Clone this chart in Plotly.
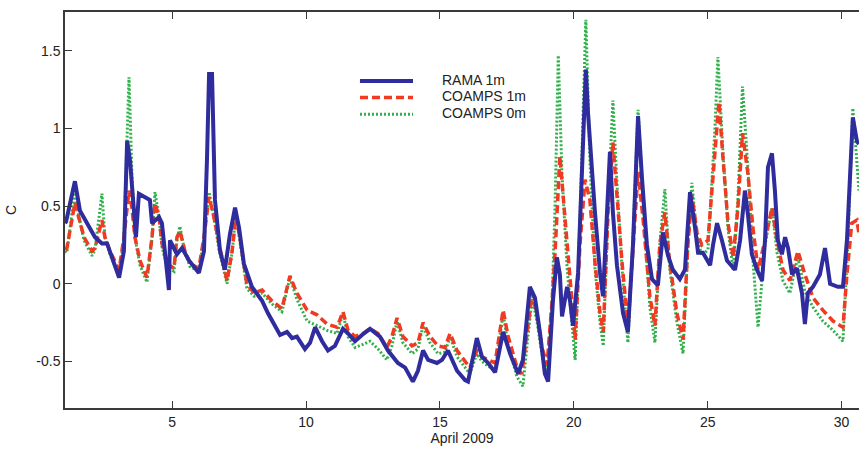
import plotly.graph_objects as go

# ---------------- data ----------------
rama_days = [1.00,1.04,1.37,1.56,2.12,2.38,2.57,2.87,3.02,3.20,
             3.32,3.43,3.58,3.65,3.76,3.95,4.17,4.25,4.51,4.62,
             4.73,4.88,4.92,5.18,5.37,5.63,6.00,6.19,6.30,6.38,
             6.49,6.56,6.60,6.79,6.97,7.16,7.35,7.50,7.68,7.98,
             8.36,8.58,9.03,9.29,9.48,9.66,9.96,10.15,10.34,10.60,
             10.82,11.08,11.38,11.57,11.83,12.09,12.39,12.76,13.06,13.43,
             13.70,13.99,14.18,14.37,14.56,14.89,15.08,15.30,15.64,15.94,
             16.05,16.38,16.57,16.80,17.06,17.36,17.62,17.92,18.10,18.36,
             18.55,18.74,18.92,19.04,19.22,19.37,19.48,19.56,19.75,19.86,
             19.97,20.16,20.31,20.45,20.53,20.68,20.79,20.98,21.09,21.24,
             21.35,21.46,21.61,21.84,22.02,22.21,22.40,22.55,22.73,22.92,
             23.14,23.33,23.52,23.70,23.96,24.15,24.34,24.52,24.64,24.82,
             25.09,25.20,25.35,25.53,25.72,26.02,26.21,26.39,26.50,26.65,
             26.84,27.03,27.14,27.25,27.40,27.51,27.62,27.77,27.89,28.00,
             28.15,28.33,28.52,28.63,28.74,28.93,29.19,29.38,29.57,29.86,
             30.05,30.20,30.31,30.42,30.57,30.65]
rama_vals = [0.39,0.40,0.66,0.47,0.30,0.26,0.26,0.10,0.04,0.21,
             0.92,0.79,0.43,0.30,0.58,0.56,0.54,0.39,0.43,0.39,
             0.21,-0.04,0.28,0.19,0.23,0.15,0.07,0.21,0.79,1.35,
             1.35,0.79,0.54,0.21,0.09,0.32,0.49,0.36,0.13,-0.02,
             -0.11,-0.19,-0.33,-0.31,-0.35,-0.34,-0.42,-0.38,-0.28,-0.37,
             -0.43,-0.40,-0.29,-0.32,-0.37,-0.33,-0.29,-0.34,-0.43,-0.51,
             -0.54,-0.63,-0.56,-0.43,-0.49,-0.51,-0.49,-0.43,-0.56,-0.62,
             -0.63,-0.35,-0.47,-0.51,-0.57,-0.31,-0.45,-0.58,-0.49,-0.02,
             -0.09,-0.32,-0.58,-0.63,-0.11,0.17,0.06,-0.21,-0.02,-0.11,
             -0.27,0.07,0.67,1.38,1.10,0.67,0.46,0.07,-0.08,0.46,
             0.85,0.46,0.12,-0.19,-0.31,0.25,1.08,0.67,0.25,0.03,
             -0.01,0.33,0.18,0.09,0.03,0.09,0.59,0.37,0.20,0.20,
             0.12,0.25,0.39,0.28,0.15,0.09,0.28,0.60,0.45,0.19,
             0.09,0.02,0.28,0.75,0.84,0.60,0.28,0.19,0.30,0.23,
             0.06,0.10,-0.06,-0.26,-0.06,-0.02,0.06,0.23,0.00,-0.02,
             -0.02,0.28,0.71,1.07,0.92,0.90]

c1_days = [1.00,1.07,1.37,1.52,1.71,2.01,2.12,2.38,2.49,2.68,3.02,
           3.20,3.39,3.50,3.61,3.80,4.06,4.25,4.36,4.51,4.62,
           4.81,5.07,5.18,5.29,5.48,5.67,6.00,6.19,6.38,6.56,
           6.75,7.05,7.24,7.38,7.53,7.79,8.06,8.36,8.73,9.10,
           9.40,9.66,10.04,10.41,10.79,11.16,11.38,11.57,11.83,12.13,
           12.39,12.69,13.02,13.21,13.40,13.62,13.96,14.18,14.37,14.63,
           14.93,15.19,15.38,15.64,15.94,16.12,16.38,16.57,16.80,17.06,
           17.36,17.55,17.88,18.06,18.25,18.45,18.63,18.81,19.00,19.19,
           19.30,19.40,19.48,19.75,20.05,20.23,20.42,20.60,20.79,20.98,
           21.10,21.28,21.46,21.61,21.80,22.02,22.21,22.40,22.59,22.84,
           23.03,23.21,23.40,23.58,23.85,24.08,24.26,24.41,24.60,24.78,
           25.01,25.27,25.42,25.57,25.76,25.95,26.13,26.30,26.50,26.69,
           26.88,27.14,27.40,27.59,27.81,28.07,28.26,28.37,28.63,28.93,
           29.30,29.68,30.05,30.20,30.38,30.57,30.65]
c1_vals = [0.22,0.23,0.52,0.43,0.30,0.21,0.23,0.41,0.30,0.21,0.09,
           0.30,0.60,0.49,0.30,0.15,0.04,0.30,0.52,0.43,0.26,
           0.13,0.10,0.30,0.34,0.21,0.13,0.10,0.30,0.56,0.43,
           0.26,0.02,0.21,0.43,0.30,0.00,-0.06,-0.04,-0.11,-0.16,
           0.05,-0.06,-0.17,-0.20,-0.26,-0.28,-0.18,-0.30,-0.34,-0.32,
           -0.29,-0.32,-0.41,-0.34,-0.22,-0.34,-0.40,-0.38,-0.25,-0.34,
           -0.40,-0.41,-0.32,-0.43,-0.50,-0.54,-0.43,-0.47,-0.49,-0.51,
           -0.17,-0.34,-0.54,-0.58,-0.32,-0.06,-0.21,-0.41,-0.52,-0.11,
           0.20,0.60,0.82,0.26,-0.36,0.25,0.67,0.54,0.14,-0.19,
           -0.31,0.46,0.91,0.57,0.14,-0.27,0.25,0.72,0.41,-0.08,
           -0.27,0.25,0.46,0.14,-0.19,-0.36,0.25,0.57,0.33,0.25,
           0.28,0.89,1.17,0.81,0.39,0.17,0.49,0.97,0.71,0.36,
           0.09,0.28,0.49,0.28,0.09,0.02,0.15,0.21,0.06,-0.09,
           -0.17,-0.24,-0.28,0.06,0.39,0.41,0.32]

c0_days = [1.00,1.07,1.37,1.52,1.71,2.01,2.12,2.38,2.49,2.68,3.02,
           3.20,3.39,3.50,3.61,3.80,4.06,4.25,4.36,4.51,4.62,
           4.81,5.07,5.18,5.29,5.48,5.67,6.00,6.19,6.38,6.56,
           6.75,7.05,7.24,7.38,7.53,7.79,8.06,8.36,8.73,9.10,
           9.40,9.66,10.04,10.41,10.79,11.16,11.38,11.57,11.83,12.13,
           12.39,12.69,13.02,13.21,13.40,13.62,13.96,14.18,14.37,14.63,
           14.93,15.19,15.38,15.64,15.94,16.12,16.38,16.57,16.80,17.06,
           17.36,17.55,17.88,18.10,18.28,18.45,18.63,18.81,19.00,19.19,
           19.30,19.42,19.56,19.75,20.05,20.23,20.45,20.60,20.79,20.98,
           21.10,21.28,21.46,21.61,21.80,22.02,22.21,22.40,22.59,22.84,
           23.03,23.21,23.40,23.58,23.85,24.08,24.26,24.41,24.60,24.78,
           25.01,25.27,25.38,25.57,25.76,25.95,26.13,26.30,26.50,26.69,
           26.88,27.14,27.40,27.59,27.81,28.07,28.26,28.37,28.63,28.93,
           29.30,29.68,30.05,30.24,30.42,30.60,30.65]
c0_vals = [0.21,0.20,0.60,0.43,0.28,0.18,0.22,0.58,0.30,0.19,0.05,
           0.30,1.33,0.70,0.30,0.12,0.01,0.30,0.59,0.43,0.24,
           0.11,0.08,0.28,0.37,0.20,0.11,0.08,0.30,0.59,0.43,
           0.22,0.00,0.20,0.45,0.28,-0.03,-0.08,-0.06,-0.13,-0.18,
           0.04,-0.10,-0.24,-0.27,-0.30,-0.32,-0.19,-0.34,-0.41,-0.39,
           -0.37,-0.42,-0.49,-0.40,-0.24,-0.38,-0.45,-0.42,-0.27,-0.38,
           -0.45,-0.44,-0.34,-0.47,-0.54,-0.58,-0.45,-0.50,-0.53,-0.56,
           -0.19,-0.40,-0.60,-0.66,-0.35,-0.09,-0.25,-0.45,-0.58,-0.10,
           0.50,1.47,0.70,0.10,-0.49,0.40,1.70,0.80,0.10,-0.25,
           -0.40,0.50,1.18,0.65,0.10,-0.38,0.30,1.12,0.50,-0.15,
           -0.38,0.25,0.61,0.10,-0.25,-0.45,0.25,0.65,0.30,0.18,
           0.22,1.00,1.46,0.85,0.35,0.09,0.55,1.27,0.75,0.15,
           -0.28,0.25,0.49,0.20,0.02,-0.06,0.10,0.17,-0.05,-0.15,
           -0.24,-0.30,-0.37,0.28,1.13,0.71,0.60]

series_names = ["RAMA 1m", "COAMPS 1m", "COAMPS 0m"]
x_ticks = [5, 10, 15, 20, 25, 30]
y_ticks = [-0.5, 0, 0.5, 1, 1.5]
y_tick_text = ["-0.5", "0", "0.5", "1", "1.5"]

# ---------------- styles ----------------
BLUE = "#2f2c9e"
RED = "#f03a22"
GREEN = "#2fb04a"
FONT = "Liberation Sans, Arial, Helvetica, sans-serif"
AX = "#3a3a3a"

fig = go.Figure()
# model series first, observed series drawn on top
fig.add_trace(go.Scatter(x=c0_days, y=c0_vals, mode="lines", name=series_names[2],
                         line=dict(color=GREEN, width=3, dash="2px,2px")))
fig.add_trace(go.Scatter(x=c1_days, y=c1_vals, mode="lines", name=series_names[1],
                         line=dict(color=RED, width=3.5, dash="8px,4px")))
fig.add_trace(go.Scatter(x=rama_days, y=rama_vals, mode="lines", name=series_names[0],
                         line=dict(color=BLUE, width=4)))

# manual legend (MATLAB style)
leg_rows = [0.826, 0.784, 0.742]
leg_styles = [dict(color=BLUE, width=4), dict(color=RED, width=3.5, dash="8px,4px"),
              dict(color=GREEN, width=3, dash="2px,2px")]
for yv, st, nm in zip(leg_rows, leg_styles, series_names):
    fig.add_shape(type="line", xref="paper", yref="paper", x0=0.3715, x1=0.4383,
                  y0=yv, y1=yv, line=st)
    fig.add_annotation(xref="paper", yref="paper", x=0.4723, y=yv + 0.003, text=nm,
                       showarrow=False, xanchor="left", yanchor="middle",
                       font=dict(family=FONT, size=14, color="#222"))

fig.update_layout(
    width=859, height=449,
    margin=dict(l=65, r=0, t=12, b=41),
    paper_bgcolor="white", plot_bgcolor="white",
    showlegend=False,
    font=dict(family=FONT, size=14, color="#222"),
)
fig.update_xaxes(range=[1.0, 30.65], tickvals=x_ticks, ticks="inside", ticklen=7,
                 tickcolor=AX, tickwidth=1.2, showline=True, linecolor=AX, linewidth=1.5,
                 mirror="ticks", showgrid=False, zeroline=False,
                 title=dict(text="April 2009", standoff=4, font=dict(size=14)))
fig.update_yaxes(range=[-0.80, 1.75], tickvals=y_ticks, ticktext=y_tick_text,
                 ticks="inside", ticklen=7, tickcolor=AX, tickwidth=1.2,
                 showline=True, linecolor=AX, linewidth=1.5, mirror=False,
                 showgrid=False, zeroline=False,
                 title=dict(text="C", standoff=16, font=dict(size=14)))

fig.write_html("out.html")
